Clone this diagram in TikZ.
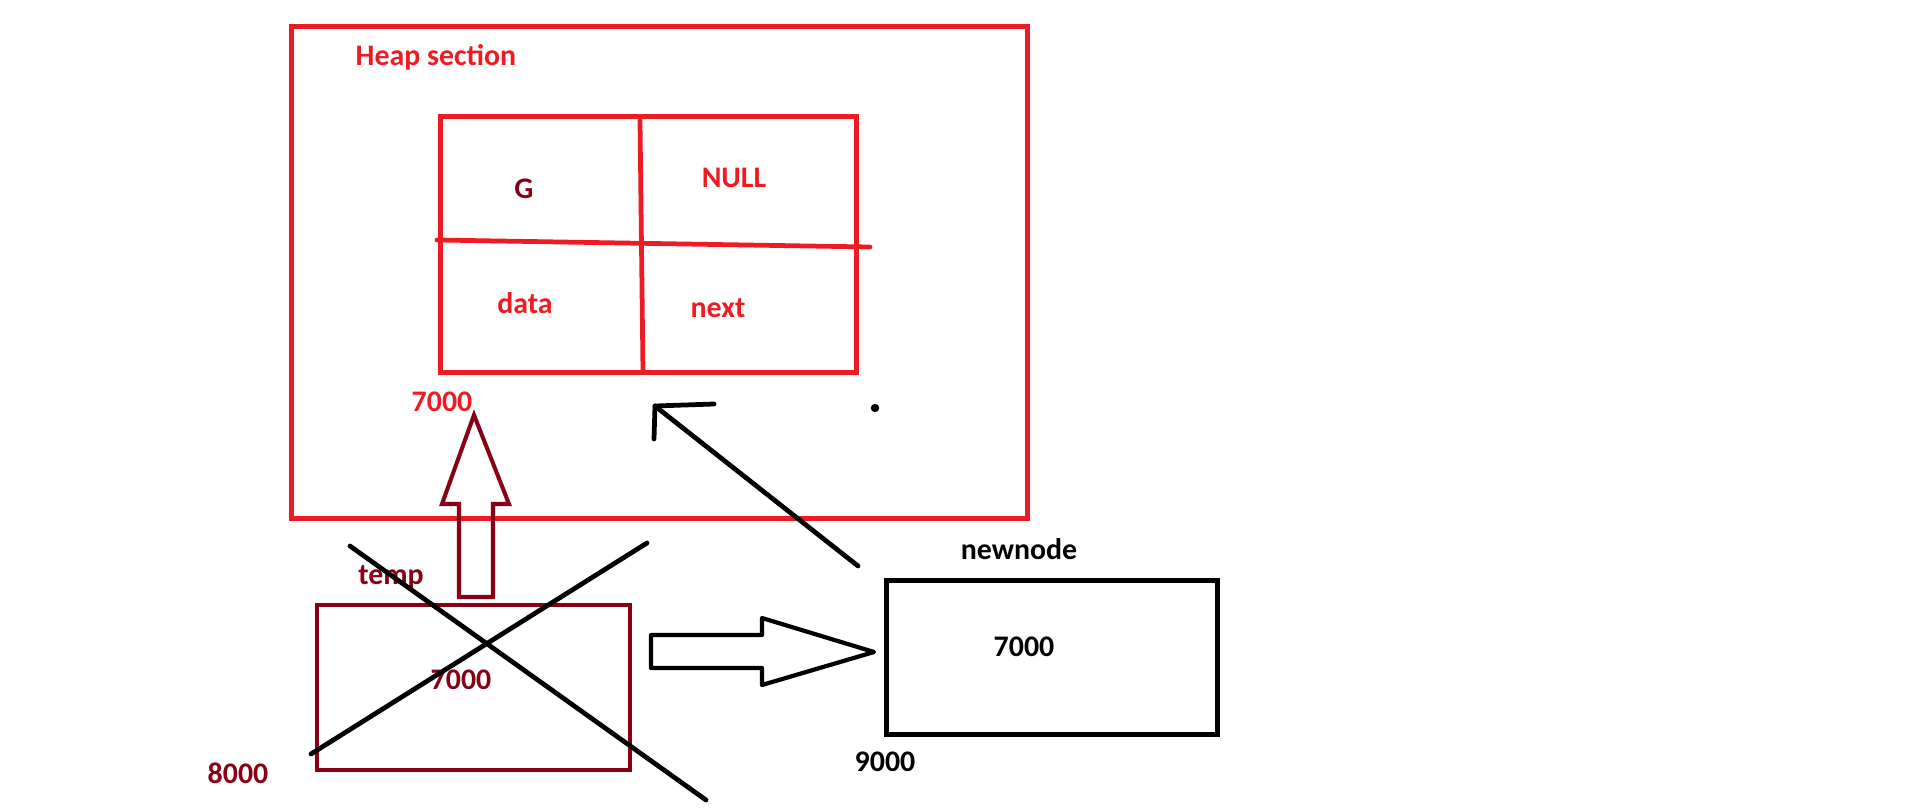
\documentclass[tikz,border=0pt]{standalone}
\usepackage{fontspec}
\setmainfont{Carlito}
\usetikzlibrary{positioning}
\definecolor{paintred}{HTML}{ED1C24}
\definecolor{paintmaroon}{HTML}{880015}

\begin{document}
\begin{tikzpicture}[
    x=0.01cm, y=-0.01cm,
    box/.style={draw, rectangle, line width=1.4pt, inner sep=0pt},
    lbl/.style={font=\fontsize{8.5}{10}\selectfont\bfseries, inner sep=0pt},
    stroke/.style={line width=1.35pt, line cap=round, line join=round}
    ]
    \useasboundingbox (0,0) rectangle (1914,809);

    % heap memory
    \node[box, paintred, minimum width=7.35cm, minimum height=4.91cm] (heap) at (659.5,272.5) {};
    \node[lbl, paintred, anchor=west] (heap_lbl) at (355,57) {Heap section};
    \node[box, paintred, minimum width=4.15cm, minimum height=2.55cm] (cell) at (648.5,244.5) {};
    \coordinate (div_top) at (640,121);
    \coordinate (div_bot) at (643,372);
    \coordinate (div_left) at (437,240);
    \coordinate (div_right) at (870,247);
    \draw[stroke, paintred] (div_top) -- (div_bot);
    \draw[stroke, paintred] (div_left) -- (div_right);
    \node[lbl, paintmaroon] (g_lbl) at (524,189) {G};
    \node[lbl, paintred] (null_lbl) at (734,178) {NULL};
    \node[lbl, paintred] (data_lbl) at (525,303) {data};
    \node[lbl, paintred] (next_lbl) at (718,308) {next};
    \node[lbl, paintred] (addr_heap) at (442,402) {7000};

    % temp pointer
    \node[box, paintmaroon, line width=1.15pt, minimum width=3.13cm, minimum height=1.65cm] (temp_box) at (473.5,687.5) {};
    \node[lbl, paintmaroon] (temp_lbl) at (391,577) {temp};
    \node[lbl, paintmaroon] (temp_val) at (461,680) {7000};
    \node[lbl, paintmaroon] (addr_temp) at (238,773) {8000};
    \draw[stroke, paintmaroon, line width=1.15pt, line cap=butt, line join=miter]
        (474,415) -- (442,504) -- (459,504) -- (459,597) -- (493,597) -- (493,504) -- (509,504) -- cycle;

    % cross out temp
    \coordinate (x1a) at (350,546);
    \coordinate (x1b) at (706,800);
    \coordinate (x2a) at (647,543);
    \coordinate (x2b) at (311,754);
    \draw[stroke] (x1a) -- (x1b);
    \draw[stroke] (x2a) -- (x2b);

    % newnode pointer
    \node[box, minimum width=3.30cm, minimum height=1.53cm] (newnode_box) at (1052,657.5) {};
    \node[lbl] (newnode_lbl) at (1019,549) {newnode};
    \node[lbl] (newnode_val) at (1024,647) {7000};
    \node[lbl] (addr_newnode) at (885,762) {9000};
    \draw[stroke, line width=1.2pt]
        (651,635) -- (762,635) -- (762,618) -- (874,652) -- (762,685) -- (762,668) -- (651,668) -- cycle;

    % newnode points into heap
    \coordinate (ptr_start) at (858,566);
    \coordinate (ptr_tip) at (655,406);
    \draw[stroke] (ptr_start) -- (ptr_tip);
    \draw[stroke] (714,404) -- (ptr_tip) -- (654,439);
    \fill (875,408) circle[radius=1.2pt];

\end{tikzpicture}
\end{document}
